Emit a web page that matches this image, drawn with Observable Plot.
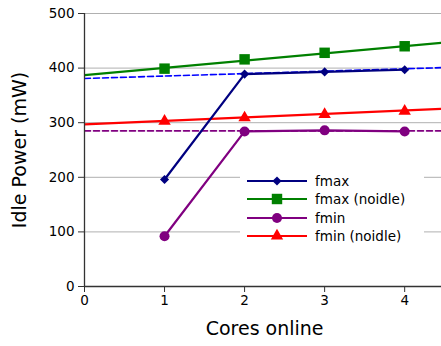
<!DOCTYPE html>
<html><head><meta charset="utf-8">
<script src="https://cdn.jsdelivr.net/npm/d3@7"></script>
<script src="https://cdn.jsdelivr.net/npm/@observablehq/plot@0.6"></script>
<style>
body{margin:0;background:#fff;font-family:"DejaVu Sans",sans-serif;}
#wrap{position:relative;width:441px;height:346px;overflow:hidden;}
#legend{position:absolute;left:240px;top:171px;width:184px;height:74px;background:#fff;font-size:13.5px;color:#000;}
.row{position:absolute;left:0;height:18px;display:flex;align-items:center;}
.row svg{margin-left:6px;}
.row span{margin-left:7px;}
</style>
</head><body><div id="wrap"><div id="chart"></div><div id="legend"></div></div>
<script>
const cores = [1, 2, 3, 4];
const fmax = [196, 389, 393, 397];
const fmaxNoidle = [399, 416, 428, 440];
const fmin = [92, 284, 286, 284];
const fminNoidle = [303, 309, 315, 321];
const fitX = [0, 4.5];
const fmaxFit = [381, 401];
const fmaxNoidleFit = [387, 447];
const fminFit = [285, 285];
const fminNoidleFit = [297, 325.5];
const xTicks = [0, 1, 2, 3, 4];
const yTicks = [0, 100, 200, 300, 400, 500];

const pts = (xs, ys) => xs.map((x, i) => ({x, y: ys[i]}));
const NAVY = "#000080", GREEN = "#008000", PURPLE = "#800080", RED = "#ff0000", BLUE = "#0000ff";

const chart = Plot.plot({
  width: 441, height: 346,
  marginLeft: 84, marginRight: 0, marginTop: 13, marginBottom: 60,
  style: {fontFamily: "DejaVu Sans", fontSize: "13.5px", color: "#000", background: "#fff"},
  x: {domain: [0, 4.46]},
  y: {domain: [0, 500]},
  marks: [
    Plot.ruleY(yTicks.filter(d => d > 0), {stroke: "#b0b0b0", strokeWidth: 1}),
    Plot.line(pts(fitX, fmaxFit), {x: "x", y: "y", stroke: BLUE, strokeWidth: 1.6, strokeDasharray: "6,3", clip: true}),
    Plot.line(pts(fitX, fminFit), {x: "x", y: "y", stroke: PURPLE, strokeWidth: 1.6, strokeDasharray: "6,3", clip: true}),
    Plot.line(pts(fitX, fmaxNoidleFit), {x: "x", y: "y", stroke: GREEN, strokeWidth: 2.2, clip: true}),
    Plot.line(pts(fitX, fminNoidleFit), {x: "x", y: "y", stroke: RED, strokeWidth: 2.2, clip: true}),
    Plot.line(pts(cores, fmax), {x: "x", y: "y", stroke: NAVY, strokeWidth: 2.2}),
    Plot.line(pts(cores, fmin), {x: "x", y: "y", stroke: PURPLE, strokeWidth: 2.2}),
    Plot.dot(pts(cores, fmax), {x: "x", y: "y", symbol: "diamond2", r: 4.1, fill: NAVY}),
    Plot.dot(pts(cores, fmaxNoidle), {x: "x", y: "y", symbol: "square", r: 5.9, fill: GREEN}),
    Plot.dot(pts(cores, fmin), {x: "x", y: "y", symbol: "circle", r: 5, fill: PURPLE}),
    Plot.dot(pts(cores, fminNoidle), {x: "x", y: "y", symbol: "triangle", r: 4.6, fill: RED}),
    Plot.axisY({ticks: yTicks, tickSize: 6, tickPadding: 4, stroke: "#333", fontSize: 13.5, label: null}),
    Plot.axisX({ticks: xTicks, tickFormat: "d", tickSize: 6, tickPadding: 3, stroke: "#333", fontSize: 13.5, label: null}),
    Plot.ruleX([0], {stroke: "#333", strokeWidth: 1.3}),
    Plot.ruleY([0], {stroke: "#333", strokeWidth: 1.3}),
    Plot.text(["Idle Power (mW)"], {frameAnchor: "left", textAnchor: "middle", dx: -65, rotate: -90, fontSize: 19, fill: "#000"}),
    Plot.text(["Cores online"], {frameAnchor: "bottom", dy: 48, fontSize: 19, fill: "#000", x: () => 2.25})
  ]
});
document.getElementById("chart").appendChild(chart);

const legendItems = [
  {label: "fmax", color: NAVY, sym: d3.symbolDiamond2, size: 53},
  {label: "fmax (noidle)", color: GREEN, sym: d3.symbolSquare, size: 109},
  {label: "fmin", color: PURPLE, sym: d3.symbolCircle, size: 79},
  {label: "fmin (noidle)", color: RED, sym: d3.symbolTriangle, size: 66}
];
const lg = document.getElementById("legend");
legendItems.forEach((it, i) => {
  const row = document.createElement("div");
  row.className = "row";
  row.style.top = (1 + i * 18.3) + "px";
  const path = d3.symbol(it.sym, it.size)();
  row.innerHTML = `<svg width="62" height="16"><line x1="1" x2="61" y1="8" y2="8" stroke="${it.color}" stroke-width="2"/><path transform="translate(31,8)" d="${path}" fill="${it.color}"/></svg><span>${it.label}</span>`;
  lg.appendChild(row);
});
</script></body></html>
